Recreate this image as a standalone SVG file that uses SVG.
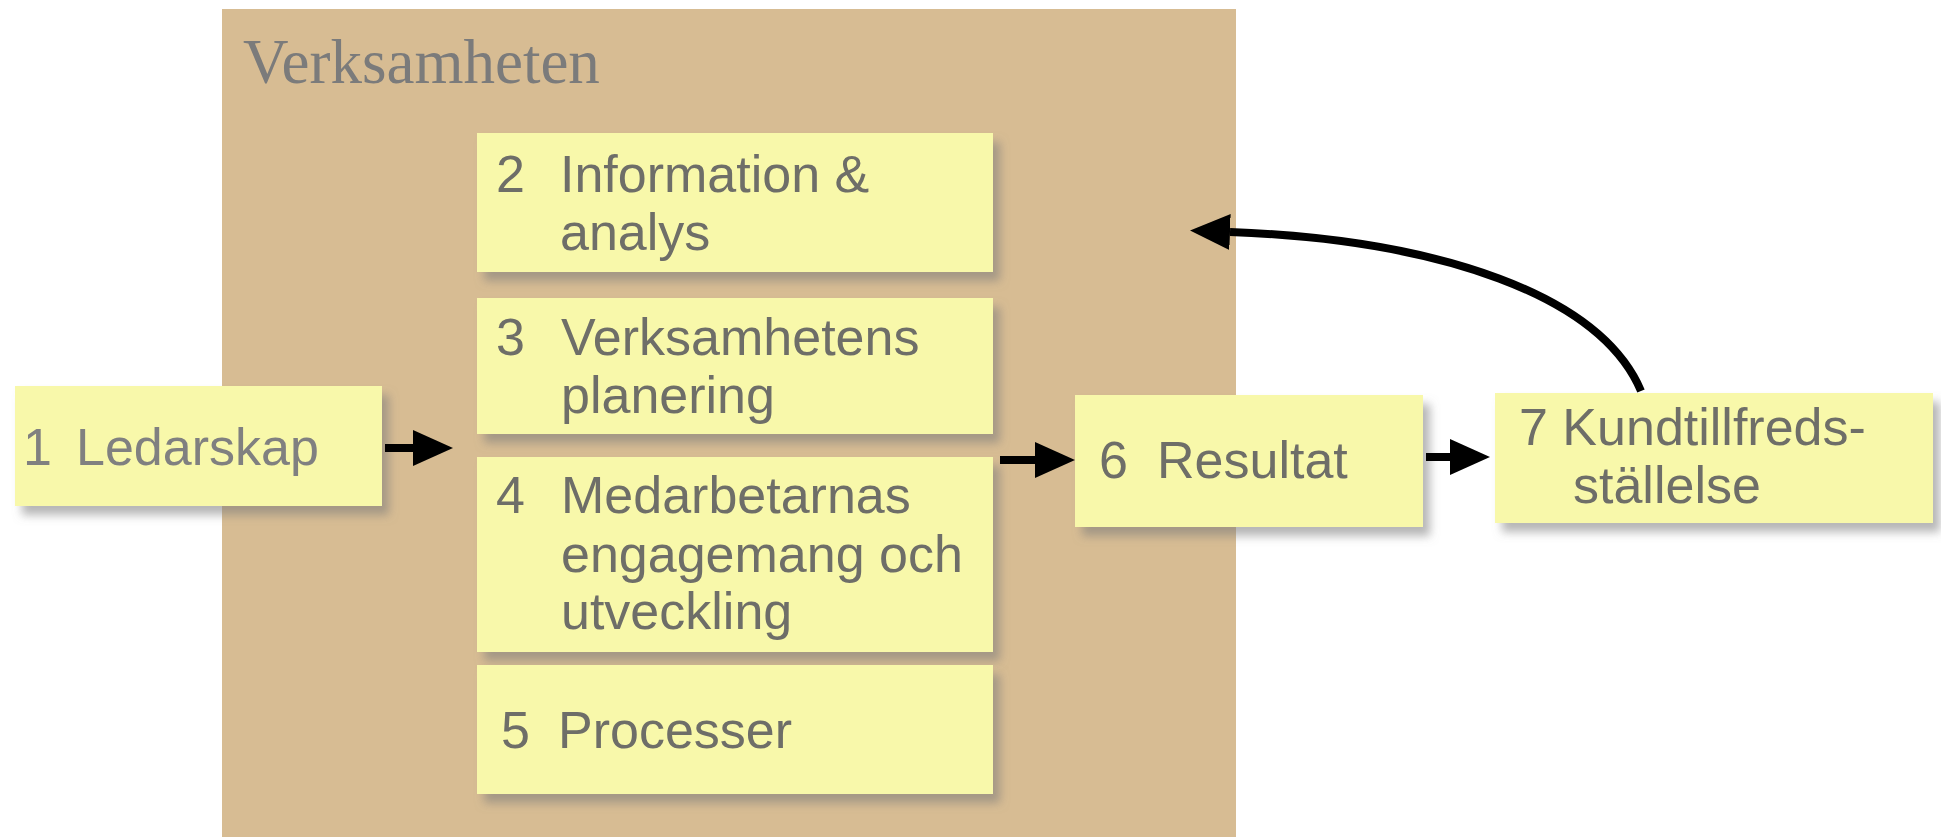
<svg xmlns="http://www.w3.org/2000/svg" width="1941" height="837" viewBox="0 0 1941 837">
  <style>
    .box { fill: #f8f8aa; filter: url(#shadow); }
    .lbl { font-family: "Liberation Sans", Arial, sans-serif; font-size: 52px; fill: #6e6e68; }
    .lbl1 { font-family: "Liberation Sans", Arial, sans-serif; font-size: 52px; fill: #808080; }
    .title { font-family: "Liberation Serif", "Times New Roman", serif; font-size: 63px; fill: #7b7b7b; }
    .conn { stroke: #000; stroke-width: 8; fill: none; marker-end: url(#head); }
  </style>
  <defs>
    <filter id="shadow" x="-10%" y="-10%" width="130%" height="140%">
      <feGaussianBlur in="SourceAlpha" stdDeviation="5"/>
      <feOffset dx="7" dy="9" result="b"/>
      <feFlood flood-color="#7a7a7a" flood-opacity="0.55"/>
      <feComposite in2="b" operator="in"/>
      <feMerge>
        <feMergeNode/>
        <feMergeNode in="SourceGraphic"/>
      </feMerge>
    </filter>
    <marker id="head" viewBox="0 0 40 36" refX="0" refY="18" markerWidth="40" markerHeight="36" markerUnits="userSpaceOnUse" orient="auto">
      <path d="M0,0 L40,18 L0,36 Z" fill="#000"/>
    </marker>
  </defs>

  <rect width="1941" height="837" fill="#ffffff"/>

  <!-- organisation frame -->
  <g id="verksamheten">
    <rect x="222" y="9" width="1014" height="828" fill="#d7bc93"/>
    <text class="title" x="243" y="83">Verksamheten</text>
  </g>

  <g id="n2">
    <rect class="box" x="477" y="133" width="516" height="139"/>
    <text class="lbl" x="496" y="192">2</text>
    <text class="lbl" x="560" y="192">Information &amp;</text>
    <text class="lbl" x="560" y="250">analys</text>
  </g>

  <g id="n3">
    <rect class="box" x="477" y="298" width="516" height="136"/>
    <text class="lbl" x="496" y="355">3</text>
    <text class="lbl" x="561" y="355">Verksamhetens</text>
    <text class="lbl" x="561" y="413">planering</text>
  </g>

  <g id="n4">
    <rect class="box" x="477" y="457" width="516" height="195"/>
    <text class="lbl" x="496" y="513">4</text>
    <text class="lbl" x="561" y="513">Medarbetarnas</text>
    <text class="lbl" x="561" y="572">engagemang och</text>
    <text class="lbl" x="561" y="629">utveckling</text>
  </g>

  <g id="n5">
    <rect class="box" x="477" y="665" width="516" height="129"/>
    <text class="lbl" x="501" y="748">5</text>
    <text class="lbl" x="558" y="748">Processer</text>
  </g>

  <g id="n1">
    <rect class="box" x="15" y="386" width="367" height="120"/>
    <text class="lbl1" x="23" y="465">1</text>
    <text class="lbl1" x="76" y="465">Ledarskap</text>
  </g>

  <g id="n6">
    <rect class="box" x="1075" y="395" width="348" height="132"/>
    <text class="lbl" x="1099" y="478">6</text>
    <text class="lbl" x="1157" y="478">Resultat</text>
  </g>

  <g id="n7">
    <rect class="box" x="1495" y="393" width="438" height="130"/>
    <text class="lbl" x="1519" y="445">7 Kundtillfreds-</text>
    <text class="lbl" x="1573" y="503">ställelse</text>
  </g>

  <g id="connectors">
    <line class="conn" x1="385" y1="448" x2="413" y2="448"/>
    <line class="conn" x1="1000" y1="460" x2="1035" y2="460"/>
    <line class="conn" x1="1426" y1="457" x2="1450" y2="457"/>
    <path class="conn" stroke-width="10" d="M1641,391 C1600,295 1440,240 1230,232"/>
  </g>
</svg>
